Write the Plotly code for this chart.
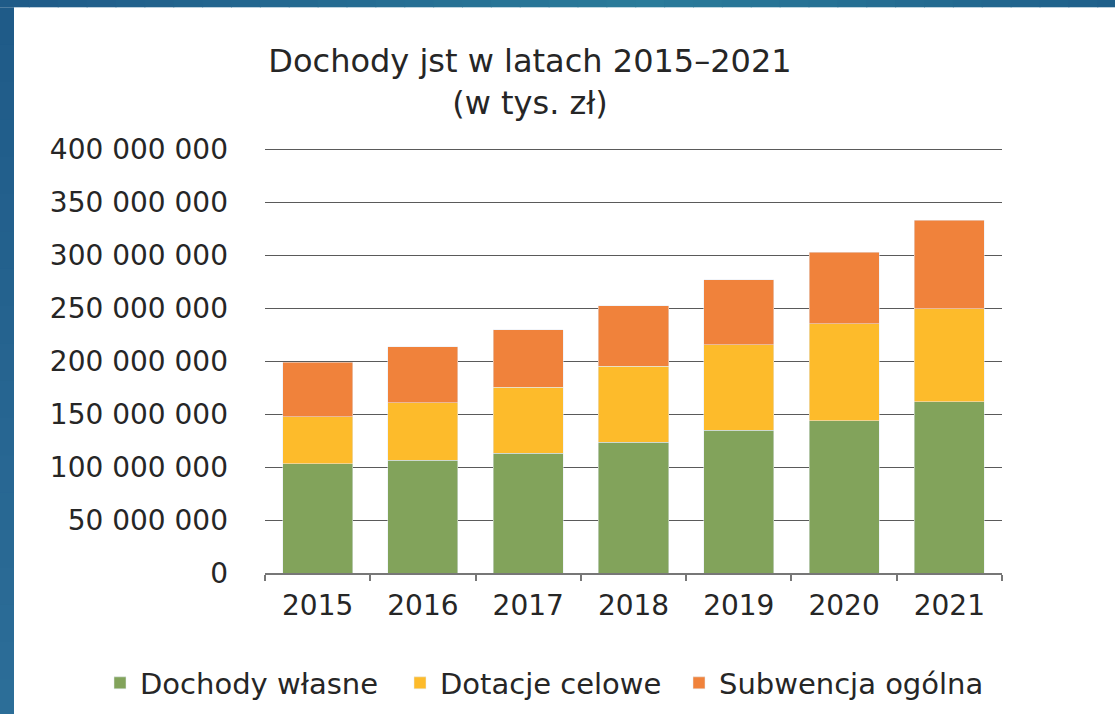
import plotly.graph_objects as go

years = ["2015", "2016", "2017", "2018", "2019", "2020", "2021"]
dochody_wlasne = [103000000, 106200000, 113100000, 123500000, 134500000, 143800000, 161500000]
dotacje_celowe = [44400000, 54500000, 62400000, 71800000, 81000000, 91600000, 88000000]
subwencja_ogolna = [51700000, 52900000, 54200000, 56800000, 61500000, 67100000, 83500000]
y_ticks = [0, 50000000, 100000000, 150000000, 200000000, 250000000, 300000000, 350000000, 400000000]
y_max = 403000000

W, H = 1115, 714
ML, MR, MT, MB = 265, 113, 146, 141
PW, PH = W - ML - MR, H - MT - MB


def px_x(p):
    return (p - ML) / PW


def px_y(p):
    return (H - MB - p) / PH


FONT = "DejaVu Sans"
TXT = "#262626"

fig = go.Figure()
fig.add_trace(go.Bar(x=years, y=dochody_wlasne, name="Dochody własne",
                     marker_color="#82a35b", legend="legend", showlegend=True))
fig.add_trace(go.Bar(x=years, y=dotacje_celowe, name="Dotacje celowe",
                     marker_color="#fdbb2b", legend="legend2", showlegend=True))
fig.add_trace(go.Bar(x=years, y=subwencja_ogolna, name="Subwencja ogólna",
                     marker_color="#f0823b", legend="legend3", showlegend=True))


def leg(xpx):
    return dict(
        orientation="h",
        xref="container", yref="container",
        x=xpx / W, xanchor="left",
        y=1 - 683 / H, yanchor="middle",
        font=dict(family=FONT, size=29, color=TXT),
        bgcolor="rgba(0,0,0,0)",
    )


def lerp(c1, c2, t):
    return "#" + "".join(f"{round(a + (b - a) * t):02x}" for a, b in zip(c1, c2))


# blue frame (left band + top band with soft gradient)
c_left, c_mid, c_right = (0x1f, 0x5a, 0x88), (0x2a, 0x7b, 0x9a), (0x1f, 0x5f, 0x8a)
shapes = []
N = 40
XEND = W + 40
for i in range(N):
    x0 = XEND * i / N
    x1 = XEND * (i + 1) / N + 1
    xc = (x0 + x1) / 2
    if xc < 650:
        col = lerp(c_left, c_mid, min(xc / 650, 1))
    else:
        col = lerp(c_mid, c_right, min((xc - 650) / (W - 650), 1))
    shapes.append(dict(type="rect", xref="paper", yref="paper", layer="below",
                       x0=px_x(x0), x1=px_x(x1), y0=px_y(7.3), y1=px_y(-2),
                       fillcolor=col, line=dict(width=0)))
M = 20
YEND = H + 40
for j in range(M):
    y0 = 7.3 + (YEND - 7.3) * j / M
    y1 = 7.3 + (YEND - 7.3) * (j + 1) / M + 1
    col = lerp((0x1f, 0x5a, 0x88), (0x2c, 0x6e, 0x98), min((j + 0.5) / M * YEND / H, 1))
    shapes.append(dict(type="rect", xref="paper", yref="paper", layer="below",
                       x0=px_x(-2), x1=px_x(14), y0=px_y(y1), y1=px_y(y0),
                       fillcolor=col, line=dict(width=0)))

fig.update_layout(
    width=W, height=H,
    autosize=False,
    margin=dict(l=ML, r=MR, t=MT, b=MB, pad=0, autoexpand=False),
    paper_bgcolor="white",
    plot_bgcolor="white",
    showlegend=True,
    barmode="stack",
    bargap=0.335,
    separators=", ",
    font=dict(family=FONT, color=TXT),
    title=dict(
        text="Dochody jst w latach 2015–2021<br>(w tys. zł)",
        x=530 / W, xanchor="center", xref="container",
        y=1 - 72 / H, yanchor="top", yref="container",
        font=dict(family=FONT, size=32, color=TXT),
    ),
    legend=leg(100),
    legend2=leg(400),
    legend3=leg(679),
    xaxis=dict(
        showline=True, linecolor="#777777", linewidth=1.5,
        ticks="outside", tickson="boundaries", ticklen=6, tickcolor="#777777", tickwidth=1.5,
        tickfont=dict(family=FONT, size=28, color=TXT),
        ticklabelstandoff=7,
        showgrid=False,
    ),
    yaxis=dict(
        range=[0, y_max],
        tickvals=y_ticks,
        tickformat=",d",
        tickfont=dict(family=FONT, size=28, color=TXT),
        showgrid=True, gridcolor="#5a5a5a", gridwidth=1.3,
        zeroline=False, showline=False,
        ticks="", ticklabelstandoff=36,
    ),
    shapes=shapes,
)

fig.write_html(
    "out.html",
    config={"displayModeBar": False},
    post_script="document.body.style.margin='0';document.body.style.background='white';",
)
